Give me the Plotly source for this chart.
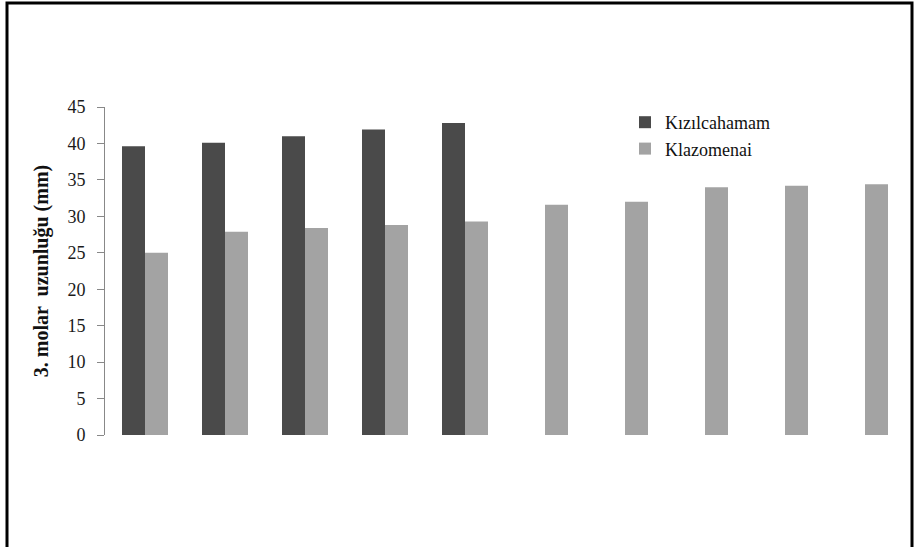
import plotly.graph_objects as go

categories = ["1", "2", "3", "4", "5", "6", "7", "8", "9", "10"]
kizilcahamam = [39.6, 40.1, 41.0, 41.9, 42.8, None, None, None, None, None]
klazomenai = [25.0, 27.9, 28.4, 28.8, 29.3, 31.6, 32.0, 34.0, 34.2, 34.4]
y_ticks = [0, 5, 10, 15, 20, 25, 30, 35, 40, 45]

W, H = 914, 547
L, R, T, B = 105, 9, 107, 112
pw, ph = W - L - R, H - T - B

def px(x):
    return (x - L) / pw

def py(y):
    return (H - B - y) / ph

fig = go.Figure()
fig.add_trace(go.Bar(x=categories, y=kizilcahamam, name="Kızılcahamam",
                     marker=dict(color="#4a4a4a", line=dict(width=0))))
fig.add_trace(go.Bar(x=categories, y=klazomenai, name="Klazomenai",
                     marker=dict(color="#a3a3a3", line=dict(width=0))))

fig.update_layout(
    width=W, height=H,
    margin=dict(l=L, r=R, t=T, b=B),
    paper_bgcolor="white", plot_bgcolor="white",
    barmode="group", bargap=0.425, bargroupgap=0,
    font=dict(family="Liberation Serif", color="#1a1a1a"),
    showlegend=True,
    legend=dict(x=px(625), y=py(104), xanchor="left", yanchor="top",
                font=dict(size=18, family="Liberation Serif", color="#111111"),
                bgcolor="rgba(0,0,0,0)", tracegroupgap=0),
    xaxis=dict(type="category", range=[-0.5, 9.5], showticklabels=False,
               showline=False, showgrid=False, ticks="", zeroline=False),
    yaxis=dict(range=[0, 45], tickvals=y_ticks, showgrid=False, zeroline=False,
               showline=True, linecolor="#888888", linewidth=1,
               ticks="outside", ticklen=7, tickcolor="#888888",
               ticklabelstandoff=8,
               tickfont=dict(size=18, family="Liberation Serif", color="#1a1a1a"),
               title=dict(text="<b>3. molar  uzunluğu (mm)</b>",
                          font=dict(size=20, family="Liberation Serif", color="#111111"),
                          standoff=13)),
    shapes=[dict(type="rect", xref="paper", yref="paper",
                 x0=px(7), x1=px(912), y0=py(3), y1=py(600),
                 line=dict(color="black", width=3), fillcolor="rgba(0,0,0,0)")],
)

fig.write_html("out.html", config={"displayModeBar": False},
               post_script="document.body.style.margin='0';")
